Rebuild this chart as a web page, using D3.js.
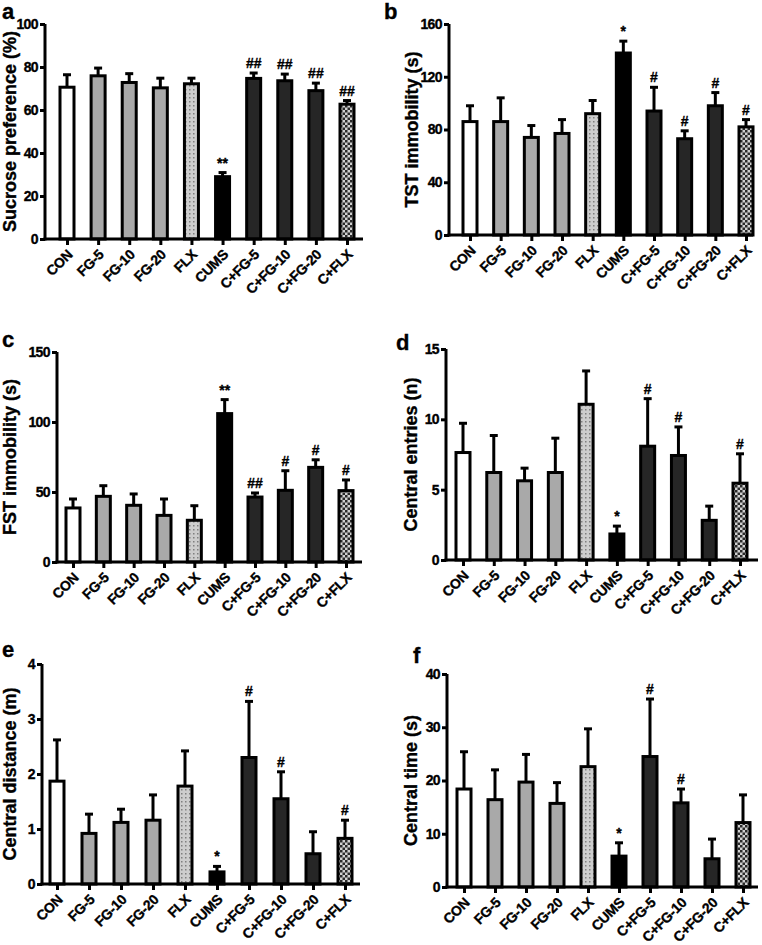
<!DOCTYPE html>
<html>
<head>
<meta charset="utf-8">
<script src="https://cdn.jsdelivr.net/npm/d3@7"></script>
<style>
  html, body { margin: 0; padding: 0; background: #fff; }
  svg { display: block; }
  svg text { font-family: "Liberation Sans", Arial, sans-serif; font-weight: bold; fill: #000; stroke: #000; stroke-width: 0.35px; }
</style>
</head>
<body>
<svg id="chart" width="762" height="945"></svg>
<script>
// ---------- data ----------
const categories = ["CON", "FG-5", "FG-10", "FG-20", "FLX", "CUMS", "C+FG-5", "C+FG-10", "C+FG-20", "C+FLX"];
const groupFill = ["white", "gray", "gray", "gray", "dots", "black", "dark", "dark", "dark", "check"];

const sucroseMean = [70.6, 75.9, 72.8, 70.3, 72.2, 29.0, 74.7, 73.6, 69.0, 62.7];
const sucroseErr  = [76.4, 79.5, 76.9, 74.8, 74.8, 30.9, 77.2, 76.7, 72.5, 64.4];
const sucroseSig  = ["", "", "", "", "", "**", "##", "##", "##", "##"];
const sucroseTicks = [0, 20, 40, 60, 80, 100];

const tstMean = [86, 86, 74, 77, 92, 138, 94, 73, 98, 82];
const tstErr  = [98, 104, 83, 87.5, 102, 147, 112, 79, 108, 87.5];
const tstSig  = ["", "", "", "", "", "*", "#", "#", "#", "#"];
const tstTicks = [0, 40, 80, 120, 160];

const fstMean = [38.6, 46.9, 40.5, 33.3, 29.8, 106, 46.4, 51.2, 67.6, 51.0];
const fstErr  = [45.0, 54.5, 48.6, 45.0, 40.2, 116, 49.3, 65.2, 73.0, 58.6];
const fstSig  = ["", "", "", "", "", "**", "##", "#", "#", "#"];
const fstTicks = [0, 50, 100, 150];

const entriesMean = [7.64, 6.22, 5.63, 6.22, 11.07, 1.85, 8.09, 7.43, 2.82, 5.46];
const entriesErr  = [9.72, 8.85, 6.53, 8.66, 13.44, 2.41, 11.47, 9.46, 3.83, 7.55];
const entriesSig  = ["", "", "", "", "", "*", "#", "#", "", "#"];
const entriesTicks = [0, 5, 10, 15];

const distMean = [1.87, 0.92, 1.12, 1.16, 1.78, 0.22, 2.30, 1.55, 0.55, 0.83];
const distErr  = [2.62, 1.27, 1.36, 1.62, 2.42, 0.32, 3.32, 2.04, 0.95, 1.16];
const distSig  = ["", "", "", "", "", "*", "#", "#", "", "#"];
const distTicks = [0, 1, 2, 3, 4];

const timeMean = [18.4, 16.4, 19.7, 15.7, 22.6, 5.8, 24.5, 15.8, 5.3, 12.1];
const timeErr  = [25.4, 22.0, 24.9, 19.6, 29.7, 8.3, 35.3, 18.4, 9.0, 17.3];
const timeSig  = ["", "", "", "", "", "*", "#", "#", "", ""];
const timeTicks = [0, 10, 20, 30, 40];

// ---------- layout ----------
const panels = [
  { letter: "a", title: "Sucrose preference (%)", mean: sucroseMean, err: sucroseErr, sig: sucroseSig, ticks: sucroseTicks,
    left: 45, top: 24, bottom: 239, right: 363, c0: 67, c1: 347, lx: 2, ly: 19, tx: 16 },
  { letter: "b", title: "TST immobility (s)", mean: tstMean, err: tstErr, sig: tstSig, ticks: tstTicks,
    left: 449, top: 24, bottom: 235, right: 753, c0: 470, c1: 746, lx: 384, ly: 19, tx: 418 },
  { letter: "c", title: "FST immobility (s)", mean: fstMean, err: fstErr, sig: fstSig, ticks: fstTicks,
    left: 57, top: 352, bottom: 562, right: 362, c0: 73, c1: 346, lx: 2, ly: 347, tx: 16 },
  { letter: "d", title: "Central entries (n)", mean: entriesMean, err: entriesErr, sig: entriesSig, ticks: entriesTicks,
    left: 446, top: 349, bottom: 560, right: 758, c0: 463, c1: 740, lx: 396, ly: 350, tx: 417 },
  { letter: "e", title: "Central distance (m)", mean: distMean, err: distErr, sig: distSig, ticks: distTicks,
    left: 42, top: 664, bottom: 884, right: 360, c0: 57, c1: 345, lx: 2, ly: 657, tx: 16 },
  { letter: "f", title: "Central time (s)", mean: timeMean, err: timeErr, sig: timeSig, ticks: timeTicks,
    left: 447, top: 674, bottom: 887, right: 758, c0: 464, c1: 743, lx: 413, ly: 663, tx: 417 }
];

const svg = d3.select("#chart");
const defs = svg.append("defs");

// dotted pattern (FLX)
const pd = defs.append("pattern").attr("id", "dots").attr("patternUnits", "userSpaceOnUse")
  .attr("width", 4).attr("height", 4);
pd.append("rect").attr("width", 4).attr("height", 4).attr("fill", "#cdcdcd");
pd.append("rect").attr("x", 1).attr("y", 1).attr("width", 1.5).attr("height", 1.5).attr("fill", "#7f7f7f");

// checkered pattern (C+FLX)
const pc = defs.append("pattern").attr("id", "check").attr("patternUnits", "userSpaceOnUse")
  .attr("width", 5).attr("height", 5);
pc.append("rect").attr("width", 5).attr("height", 5).attr("fill", "#d0d0d0");
pc.append("rect").attr("x", 0).attr("y", 0).attr("width", 2.5).attr("height", 2.5).attr("fill", "#2a2a2a");
pc.append("rect").attr("x", 2.5).attr("y", 2.5).attr("width", 2.5).attr("height", 2.5).attr("fill", "#2a2a2a");

const fillMap = { white: "#ffffff", gray: "#a9a9a9", dots: "url(#dots)", black: "#000000", dark: "#262626", check: "url(#check)" };

const barW = 14;
const sw = 3;
const FONT = "'Liberation Sans', Arial, sans-serif";

panels.forEach(p => {
  const g = svg.append("g");
  const x = d3.scalePoint().domain(categories).range([p.c0, p.c1]);
  const y = d3.scaleLinear().domain([p.ticks[0], p.ticks[p.ticks.length - 1]]).range([p.bottom, p.top]);

  const data = categories.map((c, i) => ({ c, m: p.mean[i], e: p.err[i], s: p.sig[i], f: groupFill[i] }));

  // error bars (upward only)
  g.selectAll("line.eb").data(data).join("line")
    .attr("x1", d => x(d.c)).attr("x2", d => x(d.c))
    .attr("y1", d => y(d.m)).attr("y2", d => y(d.e))
    .attr("stroke", "#000").attr("stroke-width", sw);
  g.selectAll("line.cap").data(data).join("line")
    .attr("x1", d => x(d.c) - 4).attr("x2", d => x(d.c) + 4)
    .attr("y1", d => y(d.e)).attr("y2", d => y(d.e))
    .attr("stroke", "#000").attr("stroke-width", sw);

  // bars
  g.selectAll("rect.bar").data(data).join("rect")
    .attr("x", d => x(d.c) - barW / 2)
    .attr("y", d => y(d.m))
    .attr("width", barW)
    .attr("height", d => y(0) - y(d.m))
    .attr("fill", d => fillMap[d.f])
    .attr("stroke", "#000").attr("stroke-width", sw);

  // significance marks
  g.selectAll("text.sig").data(data.filter(d => d.s)).join("text")
    .attr("x", d => x(d.c)).attr("y", d => y(d.e) - 5)
    .attr("text-anchor", "middle")
    .style("font-size", "14px").style("font-weight", "bold").style("font-family", FONT)
    .text(d => d.s);

  // y axis
  const ya = g.append("g").attr("transform", `translate(${p.left},0)`)
    .call(d3.axisLeft(y).tickValues(p.ticks).tickFormat(d3.format("d")).tickSize(5).tickSizeOuter(0).tickPadding(2));
  ya.select(".domain").attr("stroke-width", sw).attr("d", `M0,${p.bottom + 1.5}V${p.top}`);
  ya.selectAll(".tick line").attr("stroke-width", sw);
  ya.selectAll(".tick text")
    .style("font-size", "14px").style("font-family", FONT).style("font-weight", "bold")
    .style("letter-spacing", "-0.6px");

  // x axis
  const xa = g.append("g").attr("transform", `translate(0,${p.bottom})`)
    .call(d3.axisBottom(x).tickSize(6).tickSizeOuter(0).tickFormat(""));
  xa.select(".domain").attr("stroke-width", sw).attr("d", `M${p.left - 1.5},0H${p.right}`);
  xa.selectAll(".tick line").attr("stroke-width", sw);

  g.selectAll("text.xl").data(categories).join("text")
    .attr("transform", d => `translate(${x(d) + 3},${p.bottom + 13}) rotate(-45)`)
    .attr("text-anchor", "end").attr("dy", "0.35em")
    .style("font-size", "14px").style("font-family", FONT).style("font-weight", "bold")
    .style("letter-spacing", "-0.3px")
    .text(d => d);

  // y title
  g.append("text")
    .attr("transform", `translate(${p.tx},${(p.top + p.bottom) / 2}) rotate(-90)`)
    .attr("text-anchor", "middle")
    .style("font-size", "18px").style("font-family", FONT).style("font-weight", "bold")
    .text(p.title);

  // panel letter
  g.append("text").attr("x", p.lx).attr("y", p.ly)
    .style("font-size", "22px").style("font-family", FONT).style("font-weight", "bold")
    .text(p.letter);
});
</script>
</body>
</html>
